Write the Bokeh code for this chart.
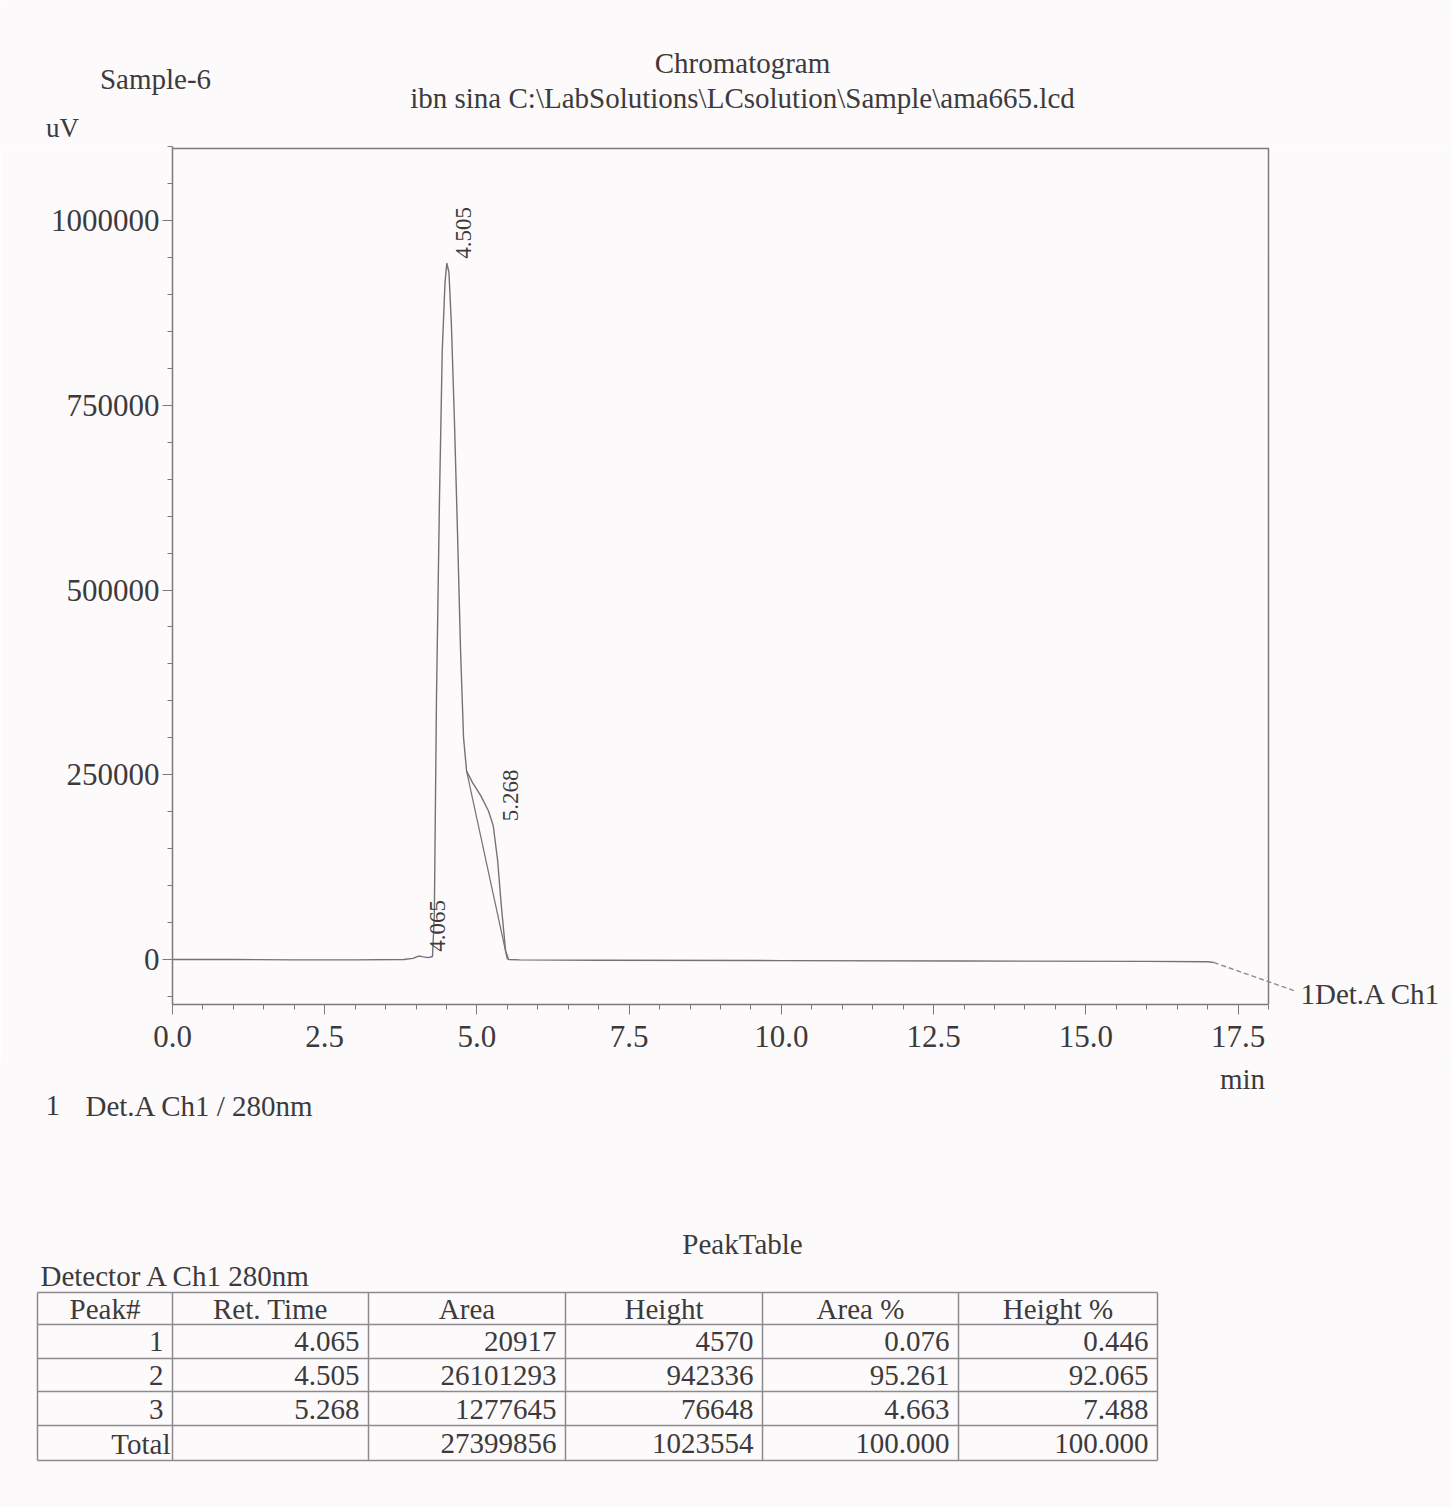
import numpy as np
from bokeh.plotting import figure
from bokeh.models import Range1d, SingleIntervalTicker, NumeralTickFormatter
from bokeh.core.properties import value
from bokeh.embed import file_html
from bokeh.resources import INLINE

# ---------------- data ----------------
time_min = [0.00, 1.00, 2.00, 3.00, 3.80, 3.95, 4.02, 4.065, 4.12, 4.20,
            4.27, 4.30, 4.335, 4.384, 4.43, 4.475, 4.505, 4.54, 4.58, 4.63,
            4.68, 4.73, 4.78, 4.83, 4.93, 5.06, 5.19, 5.268, 5.34, 5.40,
            5.47, 5.52, 5.70, 7.00, 10.00, 13.00, 16.00, 17.00, 17.10]
signal_uv = [0, 0, -500, -500, 0, 1500, 4000, 4570, 3500, 2500,
             4000, 60000, 350000, 620000, 823000, 915000, 942336, 930000, 860000, 730000,
             580000, 420000, 300000, 255000, 239000, 222000, 201000, 181000, 134000, 73000,
             12000, 0, -500, -1000, -1500, -2000, -2500, -3000, -4000]
skim_time = [4.83, 5.50]
skim_uv = [255000, 0]

peak_no = ["1", "2", "3"]
ret_time = [4.065, 4.505, 5.268]
area = [20917, 26101293, 1277645]
height = [4570, 942336, 76648]
area_pct = [0.076, 95.261, 4.663]
height_pct = [0.446, 92.065, 7.488]
total_area = 27399856
total_height = 1023554
total_pct = [100.000, 100.000]
headers = ["Peak#", "Ret. Time", "Area", "Height", "Area %", "Height %"]

x_end_min = 18.0
y_tick_interval = 250000
x_tick_interval = 2.5

# ---------------- style / layout ----------------
FONT = "Liberation Serif"
TXT = "#3c3a3c"
LINE = "#7c7a7c"
TRACE = "#747274"
BG = "#fcfafb"
PAGE_W = 1452

# page-pixel geometry of the chart frame
FL, FR = 172, 1268          # x of 0 min and of 18 min
ZERO_Y = 959                # page y of 0 uV
PX_PER_UV = 739e-6          # page px per uV
HEAD_H = 145                # header canvas height
CH_TOP = HEAD_H
FRAME_TOP, FRAME_BOT = 146, 1004
CH_H = 917
FOOT_TOP = CH_TOP + CH_H
FOOT_H = 1507 - FOOT_TOP

px_per_min = (FR - FL) / x_end_min


def dx(px):
    return (px - FL) / px_per_min


def dy(py):
    return (ZERO_Y - py) / PX_PER_UV


def text_canvas(top, h):
    f = figure(width=PAGE_W, height=h, output_backend="svg", toolbar_location=None,
               x_range=Range1d(0, PAGE_W), y_range=Range1d(top + h, top),
               min_border=0)
    f.background_fill_color = BG
    f.border_fill_color = BG
    f.outline_line_color = None
    f.axis.visible = False
    f.grid.visible = False
    return f


def put(f, txt, x, y, align="center", size="29px", angle=0.0):
    f.text(x=x if isinstance(x, list) else [x], y=y if isinstance(y, list) else [y],
           text=txt if isinstance(txt, list) else [txt], angle=angle,
           text_align=align, text_baseline="middle", text_font=value(FONT),
           text_font_size=size, text_color=TXT)


# ---------------- header ----------------
head = text_canvas(0, HEAD_H)
put(head, "Sample-6", 155, 78)
put(head, "Chromatogram", 742, 62)
put(head, "ibn sina C:\\LabSolutions\\LCsolution\\Sample\\ama665.lcd", 742, 97)
put(head, "uV", 62, 127, size="27px")

# ---------------- chart ----------------
x_max = dx(PAGE_W)
y_top = dy(FRAME_TOP)
y_bot = dy(FRAME_BOT)
p = figure(width=PAGE_W, height=CH_H, output_backend="svg", toolbar_location=None,
           x_range=Range1d(0, x_max), y_range=Range1d(y_bot, y_top),
           min_border_left=FL, min_border_right=0,
           min_border_top=FRAME_TOP - CH_TOP,
           min_border_bottom=CH_TOP + CH_H - FRAME_BOT)
p.background_fill_color = BG
p.border_fill_color = BG
p.outline_line_color = None
p.xgrid.visible = False
p.ygrid.visible = False

for ax in (p.xaxis[0], p.yaxis[0]):
    ax.axis_line_color = LINE
    ax.axis_line_width = 1.5
    ax.major_tick_line_color = LINE
    ax.minor_tick_line_color = LINE
    ax.major_tick_in = 0
    ax.minor_tick_in = 0
    ax.major_tick_out = 10
    ax.minor_tick_out = 5
    ax.major_label_text_font = FONT
    ax.major_label_text_font_size = "31px"
    ax.major_label_text_color = TXT

p.xaxis.ticker = SingleIntervalTicker(interval=x_tick_interval, num_minor_ticks=5)
p.xaxis.formatter = NumeralTickFormatter(format="0.0")
p.xaxis.bounds = (0, x_end_min)
p.xaxis.major_label_standoff = 11
p.yaxis.ticker = SingleIntervalTicker(interval=y_tick_interval, num_minor_ticks=5)
p.yaxis.formatter = NumeralTickFormatter(format="0")
p.yaxis.major_label_standoff = 3

# top and right sides of the plot box
box_top = dy(148)
p.line([0, x_end_min, x_end_min], [box_top, box_top, y_bot],
       line_color=LINE, line_width=1.5)

p.line(time_min, signal_uv, line_color=TRACE, line_width=1.4)
p.line(skim_time, skim_uv, line_color=TRACE, line_width=1.2)

lab_y = [float(np.interp(t, time_min, signal_uv)) + 6000 for t in ret_time]
lab_x = [t + 0.28 for t in ret_time]
put(p, [f"{t:.3f}" for t in ret_time], lab_x, lab_y, align="left",
    size="23px", angle=np.pi / 2)

# channel end marker
p.line([time_min[-1], dx(1296)], [signal_uv[-1], dy(991)],
       line_color="#8a888a", line_width=1.4, line_dash="5 3")
put(p, "1Det.A Ch1", dx(1300), dy(993), align="left")

# ---------------- footer: legend + peak table ----------------
foot = text_canvas(FOOT_TOP, FOOT_H)
put(foot, "min", 1242, 1078)
put(foot, "1", 45, 1105, align="left")
put(foot, "Det.A Ch1 / 280nm", 85, 1105, align="left")
put(foot, "PeakTable", 742, 1243)
put(foot, "Detector A Ch1 280nm", 40, 1275, align="left")

col_edges = [37, 172, 368, 565, 762, 958, 1157]
row_edges = [1292, 1324, 1358, 1391, 1425, 1460]
row_mid = [1308, 1341, 1375, 1409, 1443]

foot.segment(x0=[col_edges[0]] * len(row_edges), x1=[col_edges[-1]] * len(row_edges),
             y0=row_edges, y1=row_edges, line_color="#8c8a8c", line_width=1.5)
foot.segment(x0=col_edges, x1=col_edges, y0=[row_edges[0]] * len(col_edges),
             y1=[row_edges[-1]] * len(col_edges), line_color="#8c8a8c", line_width=1.5)

centers = [(a + b) / 2 for a, b in zip(col_edges[:-1], col_edges[1:])]
put(foot, headers, centers, [row_mid[0]] * 6)

cells_x, cells_y, cells_t = [], [], []
for i in range(3):
    vals = [peak_no[i], f"{ret_time[i]:.3f}", f"{area[i]}", f"{height[i]}",
            f"{area_pct[i]:.3f}", f"{height_pct[i]:.3f}"]
    for j, v in enumerate(vals):
        cells_x.append(col_edges[j + 1] - 9)
        cells_y.append(row_mid[i + 1])
        cells_t.append(v)
tot = ["Total", "", f"{total_area}", f"{total_height}",
       f"{total_pct[0]:.3f}", f"{total_pct[1]:.3f}"]
for j, v in enumerate(tot):
    if v:
        cells_x.append(col_edges[j + 1] - (2 if j == 0 else 9))
        cells_y.append(row_mid[4])
        cells_t.append(v)
put(foot, cells_t, cells_x, cells_y, align="right")

open("out.html", "w").write(file_html([head, p, foot], INLINE))
